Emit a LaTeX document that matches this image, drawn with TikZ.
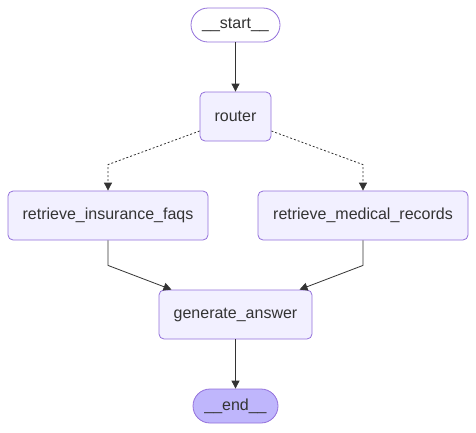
\documentclass[tikz,border=0pt]{standalone}
\usepackage{fontspec}
\setmainfont{Liberation Sans}
\usetikzlibrary{arrows.meta}

\definecolor{nodeborder}{HTML}{9370DB}
\definecolor{nodefill}{HTML}{F2F0FF}
\definecolor{endfill}{HTML}{BFB6FC}
\definecolor{edgecol}{HTML}{333333}

\begin{document}
\begin{tikzpicture}[
    x=1pt, y=-1pt,
    % Node styles
    graphnode/.style={
        rectangle,
        rounded corners=5pt,
        draw=nodeborder,
        fill=nodefill,
        line width=0.8pt,
        minimum height=49pt,
        inner sep=0pt,
        text=edgecol,
        font=\fontsize{16}{19}\selectfont
    },
    terminal/.style={
        graphnode,
        rounded corners=17pt,
        minimum height=34pt,
        fill=#1
    },
    terminal/.default=white,
    edge/.style={
        -{Triangle[length=8pt, width=8pt]},
        line width=0.8pt,
        draw=edgecol
    },
    cond/.style={
        edge,
        dash pattern=on 2pt off 2pt
    }
]

\useasboundingbox (0,0) rectangle (476,432);

% Start and router
\node[terminal, minimum width=89pt] (start) at (235.5,25) {\_\_start\_\_};
\node[graphnode, minimum width=71pt] (router) at (235.5,116.5) {router};

% Retrieval branches
\node[graphnode, minimum width=200pt] (faqs) at (108,215.5) {retrieve\_insurance\_faqs};
\node[graphnode, minimum width=210pt] (records) at (363,215.5) {retrieve\_medical\_records};

% Answer and end
\node[graphnode, minimum width=153pt] (answer) at (235.5,314.5) {generate\_answer};
\node[terminal=endfill, minimum width=85pt] (end) at (235.5,406) {\_\_end\_\_};

% Edges
\draw[edge] (start) -- (router);
\draw[cond] (router.202) -- ([yshift=26pt]faqs.north) -- (faqs.north);
\draw[cond] (router.-22) -- ([yshift=26pt]records.north) -- (records.north);
\draw[edge] (faqs.south) -- ([yshift=-25pt]faqs.south) -- ([xshift=-64pt]answer.north);
\draw[edge] (records.south) -- ([yshift=-25pt]records.south) -- ([xshift=64pt]answer.north);
\draw[edge] (answer) -- (end);

\end{tikzpicture}
\end{document}
